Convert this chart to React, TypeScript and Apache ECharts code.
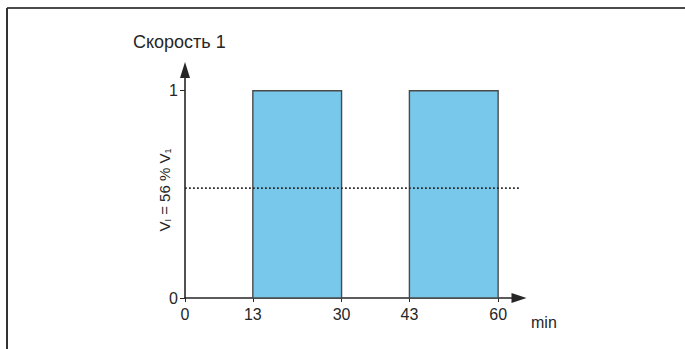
import React, { useEffect, useRef } from "react";
import * as echarts from "echarts";

// ---- data ----
const xTickValues = [0, 13, 30, 43, 60];
const yTickValues = [0, 1];
const onStarts = [13, 43];
const onEnds = [30, 60];
const onLevel = 1;
const thresholdLevel = 0.53;
const thresholdFrom = 0;
const thresholdTo = 64;
const xMax = 64;
const yMax = 1.1;

const FONT = "'Liberation Sans', Arial, Helvetica, sans-serif";
const AXIS_COLOR = "#262626";
const TEXT_COLOR = "#262626";

export default function App() {
  const ref = useRef<HTMLDivElement>(null);

  useEffect(() => {
    if (!ref.current) return;
    const chart = echarts.init(ref.current, undefined, { renderer: "svg" });

    const barData = onStarts.map((s, i) => [s, onEnds[i], onLevel]);

    const option: any = {
      animation: false,
      backgroundColor: "#ffffff",
      grid: { left: 185, right: 166, top: 70, bottom: 51, containLabel: false },
      xAxis: {
        type: "value",
        min: 0,
        max: xMax,
        splitLine: { show: false },
        axisLine: {
          show: true,
          lineStyle: { color: AXIS_COLOR, width: 1.6 },
          symbol: ["none", "triangle"],
          symbolSize: [10, 15],
        },
        axisTick: {
          show: true,
          customValues: xTickValues,
          length: 4,
          lineStyle: { color: AXIS_COLOR, width: 1 },
        },
        axisLabel: {
          customValues: xTickValues,
          color: TEXT_COLOR,
          fontFamily: FONT,
          fontSize: 16,
          margin: 8,
        },
      },
      yAxis: {
        type: "value",
        min: 0,
        max: yMax,
        splitLine: { show: false },
        axisLine: {
          show: true,
          lineStyle: { color: AXIS_COLOR, width: 1.6 },
          symbol: ["none", "triangle"],
          symbolSize: [10, 16],
        },
        axisTick: {
          show: true,
          customValues: yTickValues,
          length: 5,
          lineStyle: { color: AXIS_COLOR, width: 1 },
        },
        axisLabel: {
          customValues: yTickValues,
          color: TEXT_COLOR,
          fontFamily: FONT,
          fontSize: 16,
          margin: 7,
        },
      },
      series: [
        {
          type: "custom",
          z: 2,
          data: barData,
          encode: { x: [0, 1], y: 2 },
          renderItem: (params: any, api: any) => {
            const p0 = api.coord([api.value(0), api.value(2)]);
            const p1 = api.coord([api.value(1), 0]);
            return {
              type: "rect",
              shape: { x: p0[0], y: p0[1], width: p1[0] - p0[0], height: p1[1] - p0[1] },
              style: { fill: "#78c8ec", stroke: "#4a4a4a", lineWidth: 1.4 },
            };
          },
        },
        {
          type: "line",
          z: 5,
          symbol: "none",
          silent: true,
          data: [
            [thresholdFrom, thresholdLevel],
            [thresholdTo, thresholdLevel],
          ],
          lineStyle: { color: "#2a2a2a", width: 1.8, type: [1.8, 2.2] },
        },
      ],
      graphic: [
        {
          type: "line",
          shape: { x1: 7, y1: 8, x2: 685, y2: 8 },
          style: { stroke: "#4a4a4a", lineWidth: 2 },
        },
        {
          type: "line",
          shape: { x1: 7, y1: 8, x2: 7, y2: 349 },
          style: { stroke: "#333", lineWidth: 2 },
        },
        {
          type: "text",
          x: 133,
          y: 42,
          style: {
            text: "Скорость 1",
            fontFamily: FONT,
            fontSize: 18,
            fill: TEXT_COLOR,
            verticalAlign: "middle",
            align: "left",
          },
        },
        {
          type: "text",
          x: 531,
          y: 322,
          style: {
            text: "min",
            fontFamily: FONT,
            fontSize: 16,
            fill: TEXT_COLOR,
            verticalAlign: "middle",
            align: "left",
          },
        },
        {
          type: "text",
          x: 164,
          y: 190,
          rotation: Math.PI / 2,
          style: {
            text: "V{s|I} = 56 % V{s|1}",
            fontFamily: FONT,
            fontSize: 15,
            fill: TEXT_COLOR,
            align: "center",
            verticalAlign: "middle",
            rich: {
              s: { fontSize: 9, fontFamily: FONT, fill: TEXT_COLOR, padding: [8, 0, 0, 0] },
            },
          },
        },
      ],
    };

    chart.setOption(option);
    return () => chart.dispose();
  }, []);

  return (
    <div
      ref={ref}
      style={{ position: "fixed", left: 0, top: 0, width: 685, height: 349 }}
    />
  );
}
